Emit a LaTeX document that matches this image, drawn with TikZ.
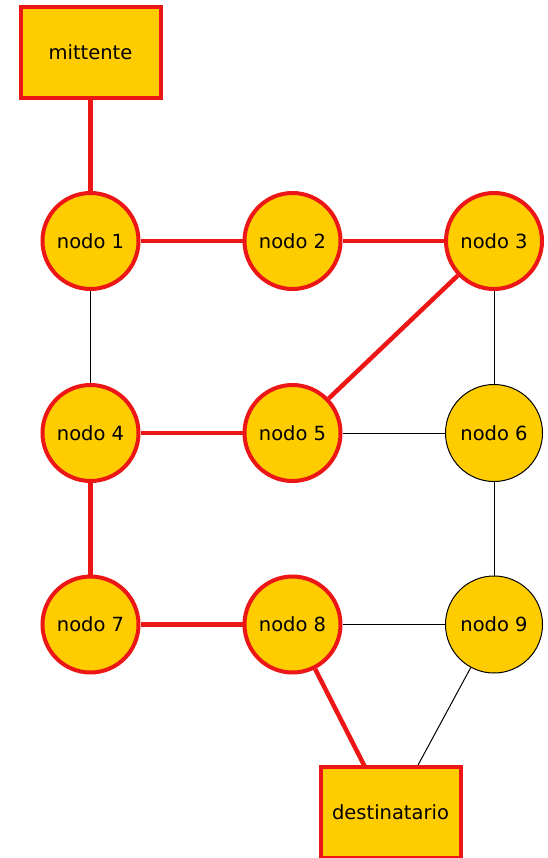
\documentclass[tikz,border=0pt]{standalone}
\usepackage{fontspec}
\setmainfont{DejaVu Sans}
\usetikzlibrary{backgrounds}
\definecolor{fillY}{RGB}{255,204,0}
\definecolor{redE}{RGB}{236,22,22}
\tikzset{
  every node/.style={font=\fontsize{19.5}{22}\selectfont},
  redcirc/.style={circle, draw=redE, line width=4pt, fill=fillY, minimum size=96pt, inner sep=0pt},
  blackcirc/.style={circle, draw=black, line width=1pt, fill=fillY, minimum size=97pt, inner sep=0pt},
  endbox/.style={rectangle, draw=redE, line width=4pt, fill=fillY, minimum width=140pt, minimum height=91pt, inner sep=0pt},
  redpath/.style={draw=redE, line width=4.5pt},
  plainpath/.style={draw=black, line width=1pt}
}
\begin{document}
\begin{tikzpicture}[x=1pt,y=-1pt]
\useasboundingbox (0,0) rectangle (547,858);
\node[endbox] (m) at (90.5,52.5) {mittente};
\node[redcirc] (n1) at (90.5,241) {nodo 1};
\node[redcirc] (n2) at (292.5,241) {nodo 2};
\node[redcirc] (n3) at (494,241) {nodo 3};
\node[redcirc] (n4) at (90.5,433) {nodo 4};
\node[redcirc] (n5) at (292.5,433) {nodo 5};
\node[blackcirc] (n6) at (494,433) {nodo 6};
\node[redcirc] (n7) at (90.5,624.5) {nodo 7};
\node[redcirc] (n8) at (292.5,624.5) {nodo 8};
\node[blackcirc] (n9) at (494,624.5) {nodo 9};
\node[endbox] (d) at (390.5,812.5) {destinatario};
\coordinate (dl) at (365,767);
\coordinate (dr) at (417,767);
\begin{pgfonlayer}{background}
\path[redpath] (m) -- (n1);
\path[redpath] (n1) -- (n2);
\path[redpath] (n2) -- (n3);
\path[redpath] (n3) -- (n5);
\path[redpath] (n4) -- (n5);
\path[redpath] (n4) -- (n7);
\path[redpath] (n7) -- (n8);
\path[redpath] (n8) -- (dl);
\path[plainpath] (n1) -- (n4);
\path[plainpath] (n3) -- (n6);
\path[plainpath] (n5) -- (n6);
\path[plainpath] (n6) -- (n9);
\path[plainpath] (n8) -- (n9);
\path[plainpath] (n9) -- (dr);
\end{pgfonlayer}
\end{tikzpicture}
\end{document}
